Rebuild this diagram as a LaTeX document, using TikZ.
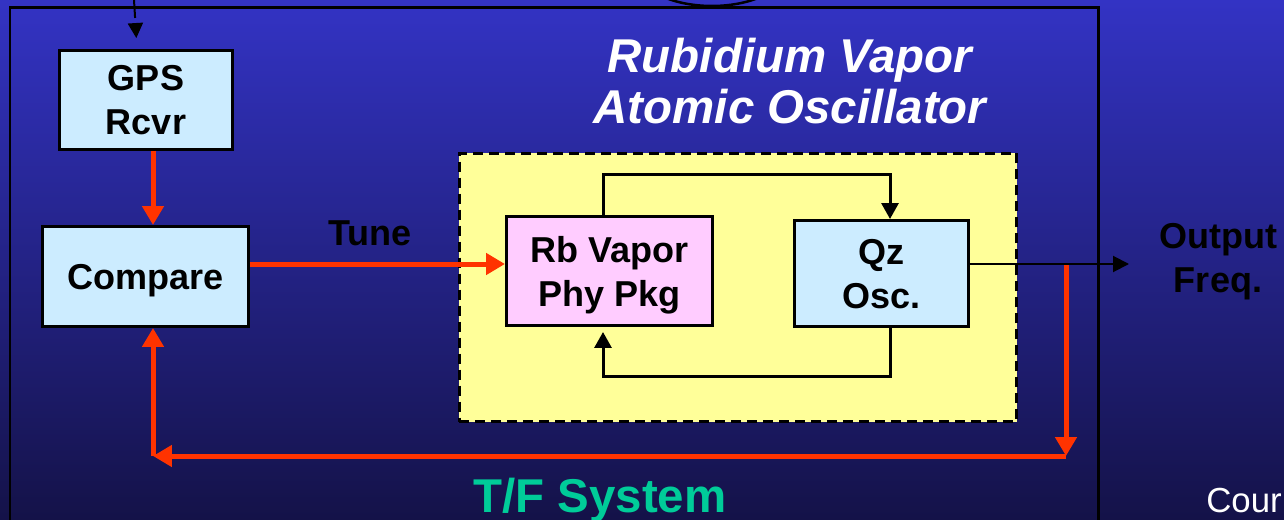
\documentclass[tikz,border=0pt]{standalone}
\usepackage{fontspec}
\setmainfont{Liberation Sans}
\usetikzlibrary{arrows.meta}

\definecolor{boxblue}{HTML}{CCECFF}
\definecolor{pkgpink}{HTML}{FFCCFF}
\definecolor{oscyellow}{HTML}{FFFF99}
\definecolor{sigred}{HTML}{FF3300}
\definecolor{sysgreen}{HTML}{00CC99}
\definecolor{bgtop}{RGB}{51,51,196}
\definecolor{bgbottom}{RGB}{20,18,72}

\begin{document}
\begin{tikzpicture}[x=0.02cm, y=-0.02cm,
  block/.style={draw, line width=0.06cm, align=center, inner sep=0pt, text depth=0pt,
    font=\fontsize{20.5}{25}\selectfont\bfseries},
  red line/.style={draw=sigred, line width=0.1cm, -{Triangle[length=0.38cm,width=0.42cm]}},
  black line/.style={line width=0.06cm, -{Triangle[length=0.32cm,width=0.34cm]}}]
  \useasboundingbox (0,0) rectangle (1284,520);
  \shade[top color=bgtop, bottom color=bgbottom] (0,0) rectangle (1284,520);
  \draw[line width=0.05cm] (712,-34) ellipse [x radius=1.54cm, y radius=0.8cm];
  \draw[line width=0.06cm] (10,8) rectangle (1098,540);

  \node[draw, dash pattern=on 0.2cm off 0.12cm, line width=0.05cm, fill=oscyellow,
    minimum width=11.15cm, minimum height=5.37cm] (osc) at (738,287.5) {};
  \node[white, align=center, font=\fontsize{27}{29.5}\selectfont\bfseries\itshape] (title) at (790,81) {Rubidium Vapor\\Atomic Oscillator};

  \node[block, fill=boxblue, minimum width=3.46cm, minimum height=1.98cm] (gps) at (146,100) {GPS\\Rcvr};
  \node[block, fill=boxblue, minimum width=4.12cm, minimum height=2cm] (cmp) at (145.5,276.5) {Compare};
  \node[block, fill=pkgpink, minimum width=4.12cm, minimum height=2.18cm] (rb) at (609.5,271) {Rb Vapor\\Phy Pkg};
  \node[block, fill=boxblue, minimum width=3.48cm, minimum height=2.12cm] (qz) at (881.5,273.5) {Qz\\Osc.};

  \node[anchor=base, font=\fontsize{20.5}{25}\selectfont\bfseries] (tune) at (370,245) {Tune};
  \node[align=center, font=\fontsize{20.5}{25}\selectfont\bfseries] (freq) at (1218,262) {Output\\Freq.};
  \node[anchor=base, text=sysgreen, font=\fontsize{27}{32}\selectfont\bfseries] (sys) at (600,512) {T/F System};
  \node[anchor=base west, inner sep=0pt, white, font=\fontsize{19.8}{24}\selectfont] (credit) at (1206,512) {Cour};

  \coordinate (gps feed) at (134,0);
  \coordinate (out tip) at (1129,264);
  \coordinate (tap) at (1066,264);
  \coordinate (low right) at (1066,456);
  \coordinate (low left) at (153,456);

  \draw[dash pattern=on 0.36cm off 0.12cm, line width=0.04cm, -{Triangle[length=0.3cm,width=0.3cm]},
    shorten >=0.22cm] (gps feed) -- (gps.north -| 137,0);
  \draw[red line] (gps.south -| 153,0) -- (cmp.north -| 153,0);
  \draw[red line] (cmp.east |- 0,264) -- (rb.west |- 0,264);
  \draw[black line] (rb.north -| 603,0) |- (890,175) -- (qz.north -| 890,0);
  \draw[black line, shorten >=0.1cm] (qz.south -| 890,0) |- (603,376) -- (rb.south -| 603,0);
  \draw[red line] (tap) -- (low right);
  \draw[red line] (low right) -- (low left);
  \draw[red line] (low left) -- (cmp.south -| low left);
  \draw[line width=0.04cm, -{Triangle[length=0.32cm,width=0.32cm]}] (qz.east |- 0,264) -- (out tip);
\end{tikzpicture}
\end{document}
